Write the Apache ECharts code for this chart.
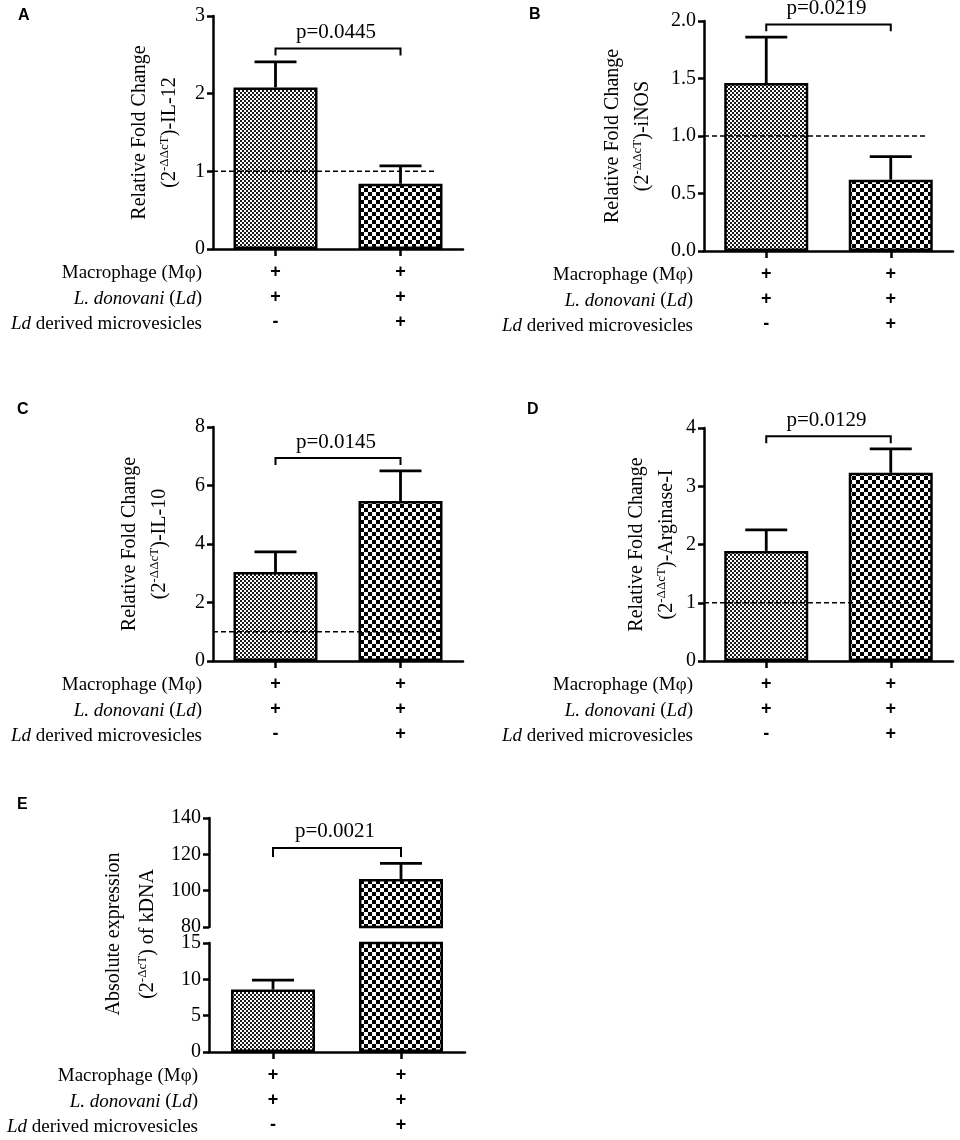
<!DOCTYPE html>
<html>
<head>
<meta charset="utf-8">
<script src="https://cdn.jsdelivr.net/npm/echarts@6/dist/echarts.min.js"></script>
<style>
  html, body { margin: 0; padding: 0; background: #fff; }
  #main { width: 960px; height: 1140px; }
</style>
</head>
<body>
<div id="main"></div>
<script>
// groups and the +/- table under each panel
const groups = ['Mφ + Ld', 'Mφ + Ld + Ld MV'];
const rowLabels = ['Macrophage (Mφ)', '{i|L. donovani} ({i|Ld})', '{i|Ld} derived microvesicles'];
const groupSigns = [['+', '+', '-'], ['+', '+', '+']];

// means and SEM
const il12Mean = [2.08, 0.84];
const il12Sem = [0.33, 0.23];
const inosMean = [1.46, 0.62];
const inosSem = [0.40, 0.20];
const il10Mean = [3.04, 5.47];
const il10Sem = [0.69, 1.03];
const arg1Mean = [1.89, 3.23];
const arg1Sem = [0.36, 0.41];
const kdnaMean = [8.6, 106.4];
const kdnaSem = [1.3, 8.6];

const refLevel = 1;
const pLabels = ['p=0.0445', 'p=0.0219', 'p=0.0145', 'p=0.0129', 'p=0.0021'];
const bracketTop = [2.58, 1.97, 6.94, 3.86, 123.5];
const bracketLeg = [2.49, 1.91, 6.70, 3.74, 118.5];

// y ranges [min, max, interval]
const rangeA = [0, 3, 1];
const rangeB = [0, 2, 0.5];
const rangeC = [0, 8, 2];
const rangeD = [0, 4, 1];
const rangeEup = [80, 140, 20];
const rangeElow = [0, 15, 5];

function checker(cell, dark, light) {
    let c = document.createElement('canvas');
    c.width = c.height = cell * 2;
    let ctx = c.getContext('2d');
    ctx.fillStyle = light;
    ctx.fillRect(0, 0, cell * 2, cell * 2);
    ctx.fillStyle = dark;
    ctx.fillRect(0, 0, cell, cell);
    ctx.fillRect(cell, cell, cell, cell);
    return c;
}
const fills = [
    { image: checker(2, '#1a1a1a', '#ffffff'), repeat: 'repeat' },
    { image: checker(4, '#000000', '#ffffff'), repeat: 'repeat' }
];

const grids = [
    { left: 213, top: 16, width: 250, height: 233 },
    { left: 704, top: 21, width: 249, height: 230 },
    { left: 213, top: 427, width: 250, height: 234 },
    { left: 704, top: 428, width: 249, height: 233 },
    { left: 209, top: 818, width: 256, height: 109 },
    { left: 209, top: 943, width: 256, height: 109 }
];

const black = '#000';
const serif = 'Liberation Serif';
const fs = 20;
const nameRich = {
    n: { fontFamily: serif, fontSize: fs, color: black, lineHeight: 30 },
    s: { fontFamily: serif, fontSize: 13, color: black, lineHeight: 13, padding: [3, 0, 0, 0], verticalAlign: 'top' }
};

function makeX(gi, show) {
    return {
        type: 'category', gridIndex: gi, data: groups,
        axisLine: { show: show, lineStyle: { color: black, width: 2.5 } },
        axisTick: { show: show, alignWithLabel: true, length: 7, lineStyle: { color: black, width: 2.5 } },
        axisLabel: {
            show: show, interval: 0, margin: 11, lineHeight: 25,
            fontFamily: 'Liberation Sans', fontWeight: 'bold', fontSize: 18, color: black,
            formatter: (v, i) => groupSigns[i].join('\n')
        },
        splitLine: { show: false }
    };
}

function makeY(gi, range, decimals, name, gap) {
    return {
        type: 'value', gridIndex: gi, min: range[0], max: range[1], interval: range[2],
        splitLine: { show: false },
        axisLine: { show: true, lineStyle: { color: black, width: 2.5 } },
        axisTick: { show: true, length: 6, lineStyle: { color: black, width: 2.5 } },
        axisLabel: { margin: 8, fontFamily: serif, fontSize: fs, color: black, formatter: v => v.toFixed(decimals) },
        name: name || '', nameLocation: 'middle', nameRotate: 90, nameGap: gap || 0,
        nameTextStyle: { fontFamily: serif, fontSize: fs, color: black, rich: nameRich }
    };
}

function barSeries(gi, mean, range) {
    return {
        type: 'bar', xAxisIndex: gi, yAxisIndex: gi, barWidth: 84, z: 2,
        itemStyle: { borderColor: black, borderWidth: 2.5 },
        data: mean.map((v, i) => ({ value: v < range[0] ? '-' : v, itemStyle: { color: fills[i] } }))
    };
}

function errorSeries(gi, mean, sem, range) {
    return {
        type: 'custom', xAxisIndex: gi, yAxisIndex: gi, z: 3,
        encode: { x: 0, y: [1, 2] },
        data: mean.map((m, i) => [i, m, m + sem[i]]).filter(d => d[1] >= range[0] && d[2] <= range[1]),
        renderItem: (params, api) => {
            let base = api.coord([api.value(0), api.value(1)]);
            let top = api.coord([api.value(0), api.value(2)]);
            let st = { stroke: black, lineWidth: 2.8 };
            return {
                type: 'group', children: [
                    { type: 'line', shape: { x1: base[0], y1: base[1], x2: top[0], y2: top[1] }, style: st },
                    { type: 'line', shape: { x1: top[0] - 21, y1: top[1], x2: top[0] + 21, y2: top[1] }, style: st }
                ]
            };
        }
    };
}

function bracketSeries(gi, k) {
    return {
        type: 'custom', xAxisIndex: gi, yAxisIndex: gi, z: 3,
        encode: { x: 0, y: [2, 3] },
        data: [[0, 1, bracketTop[k], bracketLeg[k]]],
        renderItem: (params, api) => {
            let l = api.coord([api.value(0), api.value(2)]);
            let r = api.coord([api.value(1), api.value(2)]);
            let leg = api.coord([api.value(0), api.value(3)])[1];
            return {
                type: 'group', children: [
                    {
                        type: 'polyline',
                        shape: { points: [[l[0], leg], [l[0], l[1]], [r[0], r[1]], [r[0], leg]] },
                        style: { stroke: black, lineWidth: 2, fill: null }
                    },
                    {
                        type: 'text', x: (l[0] + r[0]) / 2 - 2, y: l[1] - 16,
                        style: { text: pLabels[k], fontFamily: serif, fontSize: 21, fill: black, align: 'center', verticalAlign: 'middle' }
                    }
                ]
            };
        }
    };
}

function refSeries(gi) {
    return {
        type: 'custom', xAxisIndex: gi, yAxisIndex: gi, z: 4,
        data: [[0, refLevel]],
        renderItem: (params, api) => {
            let p = api.coord([0, api.value(1)]);
            let q = api.coord([1, api.value(1)]);
            let band = api.size([1, 0])[0];
            return {
                type: 'line',
                shape: { x1: p[0] - band / 2, y1: p[1], x2: q[0] + 36, y2: p[1] },
                style: { stroke: black, lineWidth: 1.5, lineDash: [5, 3] }
            };
        }
    };
}

// texts: panel letters, row labels, E axis name
let graphics = [];
[['A', 18, 8], ['B', 529, 7], ['C', 17, 402], ['D', 527, 402], ['E', 17, 797]].forEach(d => {
    graphics.push({ type: 'text', left: d[1], top: d[2], style: { text: d[0], font: 'bold 16px "Liberation Sans"', fill: black } });
});
[0, 1, 2, 3, 5].forEach(gi => {
    let g = grids[gi];
    rowLabels.forEach((t, k) => {
        graphics.push({
            type: 'text', x: g.left - 11, y: g.top + g.height + 24 + 25.5 * k,
            style: {
                text: t, fontFamily: serif, fontSize: 19, fill: black, align: 'right', verticalAlign: 'middle',
                rich: { i: { fontFamily: serif, fontSize: 19, fontStyle: 'italic', fill: black } }
            }
        });
    });
});
graphics.push({
    type: 'text', x: 131, y: 934, rotation: Math.PI / 2,
    style: {
        text: '{n|Absolute expression}\n{n|(2}{s|-ΔcT}{n|) of kDNA}',
        align: 'center', verticalAlign: 'middle',
        rich: {
            n: { fontFamily: serif, fontSize: fs, fill: black, lineHeight: 34 },
            s: { fontFamily: serif, fontSize: 13, fill: black, lineHeight: 13, padding: [5, 0, 0, 0], verticalAlign: 'top' }
        }
    }
});

let chart = echarts.init(document.getElementById('main'));
let option = {
    animation: false,
    backgroundColor: '#fff',
    grid: grids,
    xAxis: [makeX(0, true), makeX(1, true), makeX(2, true), makeX(3, true), makeX(4, false), makeX(5, true)],
    yAxis: [
        makeY(0, rangeA, 0, '{n|Relative Fold Change}\n{n|(2}{s|-ΔΔcT}{n|)-IL-12}', 28),
        makeY(1, rangeB, 1, '{n|Relative Fold Change}\n{n|(2}{s|-ΔΔcT}{n|)-iNOS}', 46),
        makeY(2, rangeC, 0, '{n|Relative Fold Change}\n{n|(2}{s|-ΔΔcT}{n|)-IL-10}', 38),
        makeY(3, rangeD, 0, '{n|Relative Fold Change}\n{n|(2}{s|-ΔΔcT}{n|)-Arginase-I}', 22),
        makeY(4, rangeEup, 0),
        makeY(5, rangeElow, 0)
    ],
    series: [
        barSeries(0, il12Mean, rangeA), errorSeries(0, il12Mean, il12Sem, rangeA), bracketSeries(0, 0), refSeries(0),
        barSeries(1, inosMean, rangeB), errorSeries(1, inosMean, inosSem, rangeB), bracketSeries(1, 1), refSeries(1),
        barSeries(2, il10Mean, rangeC), errorSeries(2, il10Mean, il10Sem, rangeC), bracketSeries(2, 2), refSeries(2),
        barSeries(3, arg1Mean, rangeD), errorSeries(3, arg1Mean, arg1Sem, rangeD), bracketSeries(3, 3), refSeries(3),
        barSeries(4, kdnaMean, rangeEup), errorSeries(4, kdnaMean, kdnaSem, rangeEup), bracketSeries(4, 4),
        barSeries(5, kdnaMean, rangeElow), errorSeries(5, kdnaMean, kdnaSem, rangeElow)
    ],
    graphic: graphics
};
chart.setOption(option);
</script>
</body>
</html>
